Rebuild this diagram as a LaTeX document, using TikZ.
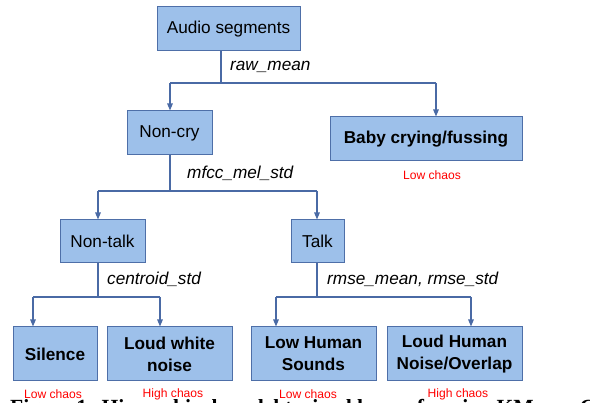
\documentclass[tikz,border=0pt]{standalone}
\usepackage{fontspec}
\setmainfont{Liberation Sans}
\newfontfamily\capfont{Liberation Serif}
\usetikzlibrary{arrows.meta}
\definecolor{boxfill}{HTML}{9DC0EA}
\definecolor{boxline}{HTML}{4E6FA8}
\definecolor{connline}{HTML}{4A6AA5}
\definecolor{chaosred}{HTML}{FF0000}
\tikzset{
  box/.style={draw=boxline, fill=boxfill, line width=1pt, inner sep=0pt,
    align=center, font=\fontsize{17.2}{22}\selectfont},
  boldbox/.style={box, font=\fontsize{17.2}{22}\selectfont\bfseries},
  conn/.style={draw=connline, line width=1.3pt},
  arr/.style={conn, -{Triangle[length=7pt,width=5.5pt]}},
  featlabel/.style={anchor=west, inner sep=0pt, font=\fontsize{17.2}{20}\selectfont\itshape},
  chaos/.style={text=chaosred, inner sep=0pt, font=\fontsize{12.1}{14}\selectfont}
}
\begin{document}
\begin{tikzpicture}[x=1pt,y=-1pt]
\useasboundingbox (0,0) rectangle (590,403);
\begin{scope}
\clip (0,0) rectangle (590,403);
\node[anchor=base west, inner sep=0pt, font=\capfont\fontsize{21.6}{24}\selectfont\bfseries] (caption) at (10,415) {Figure 1: Hierarchical model trained by performing KMeans Clustering};
\end{scope}
% boxes
\node[box, minimum width=143pt, minimum height=44pt] (audio) at (228.5,29) {Audio segments};
\node[box, minimum width=85pt, minimum height=44pt] (noncry) at (169.5,133) {Non-cry};
\node[boldbox, minimum width=192pt, minimum height=44pt] (baby) at (426,139) {Baby crying/fussing};
\node[box, minimum width=85pt, minimum height=43pt] (nontalk) at (102.5,241.5) {Non-talk};
\node[box, minimum width=53pt, minimum height=43pt] (talk) at (317.5,241.5) {Talk};
\node[boldbox, minimum width=84pt, minimum height=54pt] (silence) at (55,354) {Silence};
\node[boldbox, minimum width=125pt, minimum height=54pt] (loudwhite) at (169.5,354) {Loud white\\noise};
\node[boldbox, minimum width=125pt, minimum height=54pt] (lowhuman) at (313.5,354) {Low Human\\Sounds};
\node[boldbox, minimum width=135pt, minimum height=54pt] (loudhuman) at (454.5,354) {Loud Human\\Noise/Overlap};
% junction coordinates
\coordinate (j1) at (221,83);
\coordinate (j1l) at (170,83);
\coordinate (j1r) at (436,83);
\coordinate (j2) at (170,191);
\coordinate (j2l) at (98,191);
\coordinate (j2r) at (317,191);
\coordinate (j3) at (98,297);
\coordinate (j3l) at (33,297);
\coordinate (j3r) at (160,297);
\coordinate (j4) at (317,297);
\coordinate (j4l) at (276,297);
\coordinate (j4r) at (471,297);
% connectors
\draw[conn] (audio.south -| j1) -- (j1);
\draw[conn] (j1l) -- (j1r);
\draw[arr] (j1l) -- (noncry.north -| j1l);
\draw[arr] (j1r) -- (baby.north -| j1r);
\draw[conn] (noncry.south -| j2) -- (j2);
\draw[conn] (j2l) -- (j2r);
\draw[arr] (j2l) -- (nontalk.north -| j2l);
\draw[arr] (j2r) -- (talk.north -| j2r);
\draw[conn] (nontalk.south -| j3) -- (j3);
\draw[conn] (j3l) -- (j3r);
\draw[arr] (j3l) -- (silence.north -| j3l);
\draw[arr] (j3r) -- (loudwhite.north -| j3r);
\draw[conn] (talk.south -| j4) -- (j4);
\draw[conn] (j4l) -- (j4r);
\draw[arr] (j4l) -- (lowhuman.north -| j4l);
\draw[arr] (j4r) -- (loudhuman.north -| j4r);
% feature labels
\node[featlabel] (f1) at (230,67) {raw\_mean};
\node[featlabel] (f2) at (187,173) {mfcc\_mel\_std};
\node[featlabel] (f3) at (107,279) {centroid\_std};
\node[featlabel] (f4) at (327,279) {rmse\_mean, rmse\_std};
% chaos labels
\node[chaos] (c0) at (432,175) {Low chaos};
\node[chaos] (c1) at (53,394) {Low chaos};
\node[chaos] (c2) at (173,394) {High chaos};
\node[chaos] (c3) at (308,394) {Low chaos};
\node[chaos] (c4) at (458,394) {High chaos};
\end{tikzpicture}
\end{document}
